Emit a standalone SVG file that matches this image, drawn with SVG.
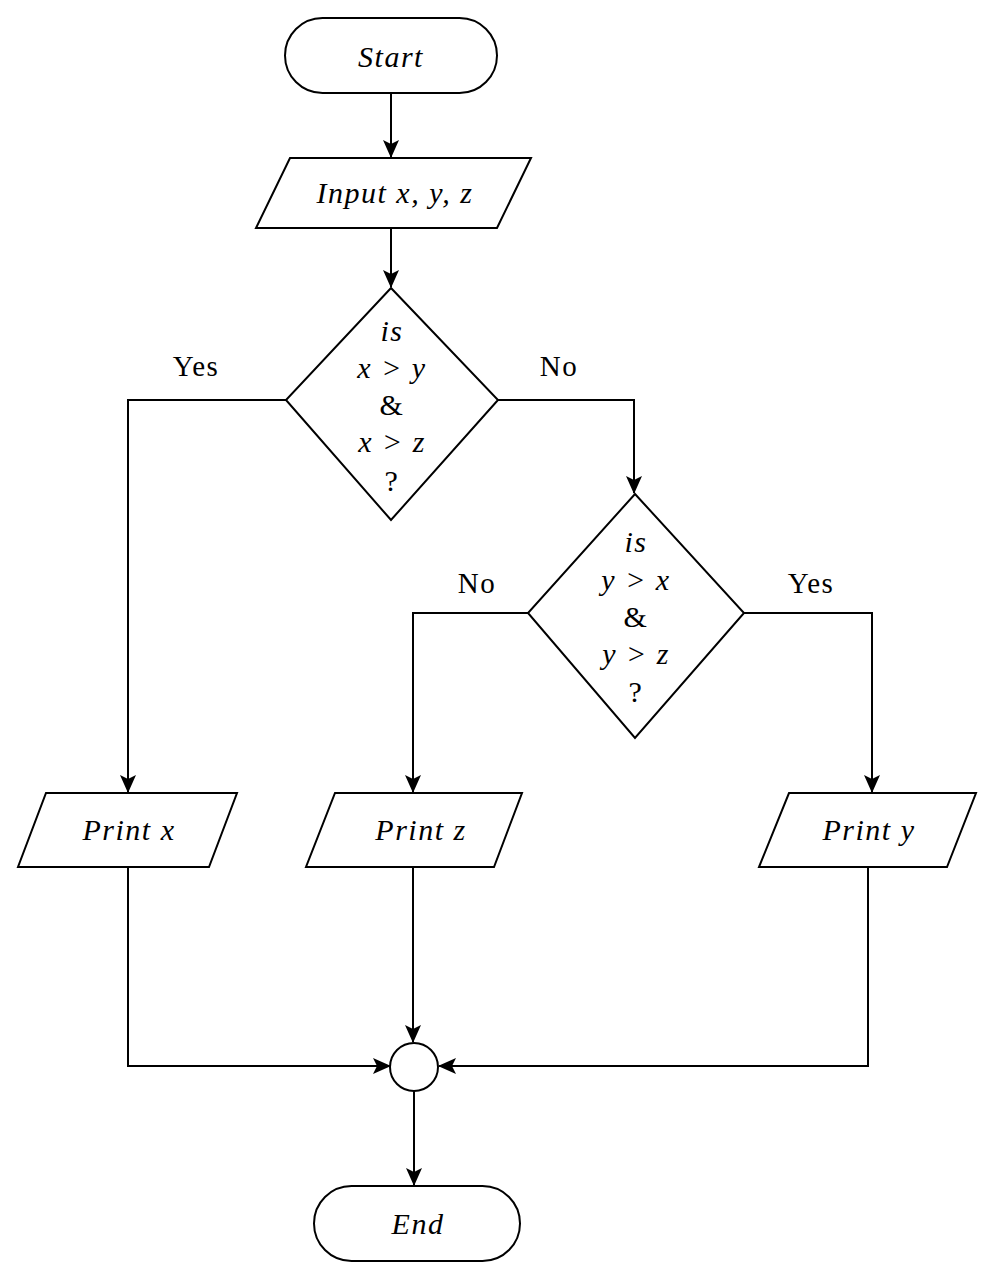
<svg xmlns="http://www.w3.org/2000/svg" width="996" height="1281" viewBox="0 0 996 1281">
<defs>
<marker id="ah" viewBox="0 0 18 16" refX="17" refY="8" markerWidth="18" markerHeight="16" markerUnits="userSpaceOnUse" orient="auto">
<path d="M0,0 L18,8 L0,16 L4,8 Z" fill="#000"/>
</marker>
</defs>
<style>
.s{fill:#fff;stroke:#000;stroke-width:2}
.c{fill:none;stroke:#000;stroke-width:2}
.t{font-family:"Liberation Serif","Times New Roman",serif;font-style:italic;font-size:30px;letter-spacing:1.5px;text-anchor:middle;fill:#000}
.u{font-style:normal}
.l{font-family:"Liberation Serif","Times New Roman",serif;font-size:29px;letter-spacing:1.5px;text-anchor:middle;fill:#000}
</style>
<rect width="996" height="1281" fill="#fff"/>
<g id="connectors">
<path class="c" d="M391,93 V157" marker-end="url(#ah)"/>
<path class="c" d="M391,228 V287" marker-end="url(#ah)"/>
<path class="c" d="M286,400 H128 V792" marker-end="url(#ah)"/>
<path class="c" d="M497,400 H634 V493" marker-end="url(#ah)"/>
<path class="c" d="M528,613 H413 V792" marker-end="url(#ah)"/>
<path class="c" d="M744,613 H872 V792" marker-end="url(#ah)"/>
<path class="c" d="M128,867 V1066 H390" marker-end="url(#ah)"/>
<path class="c" d="M413,867 V1042" marker-end="url(#ah)"/>
<path class="c" d="M868,867 V1066 H439" marker-end="url(#ah)"/>
<path class="c" d="M414,1091 V1185" marker-end="url(#ah)"/>
<text class="l" x="196" y="376">Yes</text>
<text class="l" x="559" y="376">No</text>
<text class="l" x="477" y="593">No</text>
<text class="l" x="811" y="593">Yes</text>
</g>
<g id="start">
<rect class="s" x="285" y="18" width="212" height="75" rx="37.5"/>
<text class="t" x="391" y="67">Start</text>
</g>
<g id="input">
<polygon class="s" points="290,158 531,158 497,228 256,228"/>
<text class="t" x="395" y="203">Input x, y, z</text>
</g>
<g id="decision1">
<polygon class="s" points="391,288 498,400 391,520 286,400"/>
<text class="t" x="392" y="341">is</text>
<text class="t" x="392" y="378">x &gt; y</text>
<text class="t u" x="392" y="415">&amp;</text>
<text class="t" x="392" y="452">x &gt; z</text>
<text class="t u" x="392" y="491">?</text>
</g>
<g id="decision2">
<polygon class="s" points="635,494 744,613 635,738 528,613"/>
<text class="t" x="636" y="552">is</text>
<text class="t" x="636" y="590">y &gt; x</text>
<text class="t u" x="636" y="627">&amp;</text>
<text class="t" x="636" y="664">y &gt; z</text>
<text class="t u" x="636" y="702">?</text>
</g>
<g id="printx">
<polygon class="s" points="46,793 237,793 209,867 18,867"/>
<text class="t" x="129" y="840">Print x</text>
</g>
<g id="printz">
<polygon class="s" points="335,793 522,793 494,867 306,867"/>
<text class="t" x="421" y="840">Print z</text>
</g>
<g id="printy">
<polygon class="s" points="789,793 976,793 947,867 759,867"/>
<text class="t" x="869" y="840">Print y</text>
</g>
<g id="merge">
<circle class="s" cx="414" cy="1067" r="24"/>
</g>
<g id="end">
<rect class="s" x="314" y="1186" width="206" height="75" rx="37.5"/>
<text class="t" x="418" y="1234">End</text>
</g>
</svg>
